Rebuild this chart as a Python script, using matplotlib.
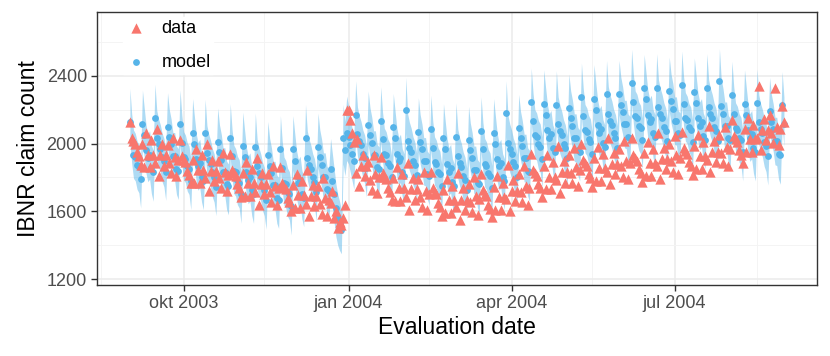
import numpy as np
import pandas as pd
import matplotlib
matplotlib.use("Agg")
import matplotlib.pyplot as plt

plt.rcParams['font.family'] = ['Liberation Sans', 'DejaVu Sans']

# daily evaluation dates, one row per week (Mon..Sun) below
start_date = "2003-09-01"
n_days = 366

# observed IBNR counts (triangles)
data = [
    2130, 2035, 2015, 2000, 1950, 1925, 1875,
    1995, 1860, 2060, 1935, 1860, 2020, 1935,
    1885, 2085, 1810, 1930, 1995, 1870, 1930,
    1990, 1885, 1825, 2035, 1920, 1810, 1905,
    2020, 1925, 1905, 1890, 1840, 1815, 1765,
    1905, 1770, 1970, 1845, 1770, 1930, 1845,
    1795, 1995, 1720, 1840, 1905, 1780, 1840,
    1900, 1795, 1735, 1945, 1830, 1720, 1815,
    1940, 1845, 1825, 1810, 1760, 1735, 1685,
    1825, 1690, 1890, 1765, 1690, 1850, 1765,
    1715, 1915, 1640, 1760, 1825, 1700, 1760,
    1820, 1715, 1655, 1865, 1750, 1640, 1735,
    1860, 1765, 1745, 1730, 1680, 1655, 1605,
    1755, 1620, 1820, 1695, 1620, 1780, 1695,
    1645, 1845, 1570, 1690, 1755, 1630, 1690,
    1750, 1645, 1585, 1795, 1680, 1570, 1665,
    1650, 1720, 1560, 1600, 1500, 1540, 1520,
    1560, 1640, 2200, 2195, 2140, 2060, 2010,
    1825, 2025, 1750, 1870, 1935, 1810, 1870,
    1890, 1785, 1725, 1935, 1820, 1710, 1805,
    1920, 1825, 1805, 1790, 1740, 1715, 1665,
    1795, 1660, 1860, 1735, 1660, 1820, 1735,
    1685, 1885, 1610, 1730, 1795, 1670, 1730,
    1790, 1685, 1625, 1835, 1720, 1610, 1705,
    1830, 1735, 1715, 1700, 1650, 1625, 1575,
    1725, 1590, 1790, 1665, 1590, 1750, 1665,
    1625, 1825, 1550, 1670, 1735, 1610, 1670,
    1760, 1655, 1595, 1805, 1690, 1580, 1675,
    1820, 1725, 1705, 1690, 1640, 1615, 1565,
    1745, 1610, 1810, 1685, 1610, 1770, 1685,
    1675, 1875, 1600, 1720, 1785, 1660, 1720,
    1820, 1715, 1655, 1865, 1750, 1640, 1735,
    1940, 1845, 1825, 1810, 1760, 1735, 1685,
    1865, 1730, 1930, 1805, 1730, 1890, 1805,
    1785, 1985, 1710, 1830, 1895, 1770, 1830,
    1930, 1825, 1765, 1975, 1860, 1750, 1845,
    2000, 1905, 1885, 1870, 1820, 1795, 1745,
    1915, 1780, 1980, 1855, 1780, 1940, 1855,
    1835, 2035, 1760, 1880, 1945, 1820, 1880,
    1970, 1865, 1805, 2015, 1900, 1790, 1885,
    2030, 1935, 1915, 1900, 1850, 1825, 1775,
    1945, 1810, 2010, 1885, 1810, 1970, 1885,
    1865, 2065, 1790, 1910, 1975, 1850, 1910,
    2000, 1895, 1835, 2045, 1930, 1820, 1915,
    2070, 1975, 1955, 1940, 1890, 1865, 1815,
    1985, 1850, 2050, 1925, 1850, 2010, 1925,
    1905, 2105, 1830, 1950, 2015, 1890, 1950,
    2050, 1945, 1885, 2095, 1980, 1870, 1965,
    2140, 2045, 2025, 2010, 1960, 1935, 1885,
    2085, 1950, 2150, 2025, 1950, 2110, 2025,
    2035, 2340, 1960, 2080, 2145, 2020, 2080,
    2170, 2065, 2005, 2330, 2100, 1990, 2085,
    2220, 2125,
]

# model predictions (circles)
model = [
    2125, 2015, 1930, 1920, 1875, 1860, 1790,
    2115, 2050, 1960, 1915, 1935, 1855, 1830,
    2150, 2035, 1995, 1970, 1920, 1895, 1835,
    2100, 2040, 1995, 1925, 1925, 1850, 1840,
    2115, 2005, 1920, 1910, 1865, 1850, 1780,
    2065, 2000, 1910, 1865, 1885, 1805, 1780,
    2060, 1945, 1905, 1880, 1830, 1805, 1745,
    2010, 1950, 1905, 1835, 1835, 1760, 1750,
    2035, 1925, 1840, 1830, 1785, 1770, 1700,
    1985, 1920, 1830, 1785, 1805, 1725, 1700,
    1980, 1865, 1825, 1800, 1750, 1725, 1665,
    1930, 1870, 1825, 1755, 1755, 1680, 1670,
    1965, 1855, 1770, 1760, 1715, 1700, 1630,
    1965, 1900, 1810, 1765, 1785, 1705, 1680,
    2030, 1915, 1875, 1850, 1800, 1775, 1715,
    1980, 1920, 1875, 1805, 1805, 1730, 1720,
    1850, 1780, 1700, 1620, 1560, 1530, 1490,
    2030, 1960, 2060, 2040, 1990, 1940, 1900,
    2170, 2055, 2015, 1990, 1940, 1915, 1855,
    2110, 2050, 2005, 1935, 1935, 1860, 1850,
    2135, 2025, 1940, 1930, 1885, 1870, 1800,
    2095, 2030, 1940, 1895, 1915, 1835, 1810,
    2195, 2015, 1975, 1950, 1900, 1875, 1815,
    2070, 2010, 1965, 1895, 1895, 1820, 1810,
    2085, 1975, 1890, 1880, 1835, 1820, 1750,
    2035, 1970, 1880, 1835, 1855, 1775, 1750,
    2040, 1925, 1885, 1860, 1810, 1785, 1725,
    2020, 1960, 1915, 1845, 1845, 1770, 1760,
    2075, 1965, 1880, 1870, 1825, 1810, 1740,
    2065, 2000, 1910, 1865, 1885, 1805, 1780,
    2180, 2005, 1965, 1940, 1890, 1865, 1805,
    2090, 2030, 1985, 1915, 1915, 1840, 1830,
    2245, 2135, 2050, 2040, 1995, 1980, 1910,
    2235, 2170, 2080, 2035, 2055, 1975, 1950,
    2230, 2115, 2075, 2050, 2000, 1975, 1915,
    2210, 2150, 2105, 2035, 2035, 1960, 1950,
    2275, 2165, 2080, 2070, 2025, 2010, 1940,
    2265, 2200, 2110, 2065, 2085, 2005, 1980,
    2290, 2175, 2135, 2110, 2060, 2035, 1975,
    2290, 2230, 2185, 2115, 2115, 2040, 2030,
    2355, 2245, 2160, 2150, 2105, 2090, 2020,
    2325, 2260, 2170, 2125, 2145, 2065, 2040,
    2330, 2215, 2175, 2150, 2100, 2075, 2015,
    2310, 2250, 2205, 2135, 2135, 2060, 2050,
    2345, 2235, 2150, 2140, 2095, 2080, 2010,
    2305, 2240, 2150, 2105, 2125, 2045, 2020,
    2330, 2215, 2175, 2150, 2100, 2075, 2015,
    2370, 2220, 2175, 2105, 2105, 2030, 2020,
    2285, 2175, 2090, 2080, 2035, 2020, 1950,
    2235, 2170, 2080, 2035, 2055, 1975, 1950,
    2240, 2125, 2085, 2060, 2010, 1985, 1925,
    2190, 2130, 2085, 2015, 2015, 1940, 1930,
    2225, 2115,
]

# prediction interval of the model (ribbon)
lower = [
    2005, 1885, 1795, 1780, 1730, 1710, 1620,
    1995, 1920, 1825, 1775, 1790, 1705, 1660,
    2030, 1905, 1860, 1830, 1775, 1745, 1665,
    1980, 1910, 1860, 1785, 1780, 1700, 1670,
    1995, 1875, 1785, 1770, 1720, 1700, 1610,
    1945, 1870, 1775, 1725, 1740, 1655, 1610,
    1940, 1815, 1770, 1740, 1685, 1655, 1575,
    1890, 1820, 1770, 1695, 1690, 1610, 1580,
    1915, 1795, 1705, 1690, 1640, 1620, 1530,
    1865, 1790, 1695, 1645, 1660, 1575, 1530,
    1860, 1735, 1690, 1660, 1605, 1575, 1495,
    1810, 1740, 1690, 1615, 1610, 1530, 1500,
    1845, 1725, 1635, 1620, 1570, 1550, 1460,
    1845, 1770, 1675, 1625, 1640, 1555, 1510,
    1910, 1785, 1740, 1710, 1655, 1625, 1545,
    1860, 1790, 1745, 1665, 1660, 1580, 1550,
    1700, 1620, 1530, 1450, 1400, 1370, 1350,
    1880, 1810, 1900, 1880, 1830, 1780, 1730,
    2050, 1925, 1880, 1850, 1795, 1765, 1685,
    1990, 1920, 1870, 1795, 1790, 1710, 1680,
    2015, 1895, 1805, 1790, 1740, 1720, 1630,
    1975, 1900, 1805, 1755, 1770, 1685, 1640,
    2060, 1885, 1840, 1810, 1755, 1725, 1645,
    1950, 1880, 1830, 1755, 1750, 1670, 1640,
    1965, 1845, 1755, 1740, 1690, 1670, 1580,
    1915, 1840, 1745, 1695, 1710, 1625, 1580,
    1920, 1795, 1750, 1720, 1665, 1635, 1555,
    1900, 1830, 1780, 1705, 1700, 1620, 1590,
    1955, 1835, 1745, 1730, 1680, 1660, 1570,
    1945, 1870, 1775, 1725, 1740, 1655, 1610,
    2040, 1875, 1830, 1800, 1745, 1715, 1635,
    1970, 1900, 1855, 1775, 1770, 1690, 1660,
    2125, 2005, 1915, 1900, 1850, 1830, 1740,
    2115, 2040, 1945, 1895, 1910, 1825, 1780,
    2110, 1985, 1940, 1910, 1855, 1825, 1745,
    2090, 2020, 1970, 1895, 1890, 1810, 1780,
    2155, 2035, 1945, 1930, 1880, 1860, 1770,
    2145, 2070, 1975, 1925, 1940, 1855, 1810,
    2170, 2045, 2000, 1970, 1915, 1885, 1805,
    2170, 2100, 2055, 1975, 1970, 1890, 1860,
    2235, 2115, 2025, 2010, 1960, 1940, 1850,
    2205, 2130, 2035, 1985, 2000, 1915, 1870,
    2210, 2085, 2040, 2010, 1955, 1925, 1845,
    2190, 2120, 2075, 1995, 1990, 1910, 1880,
    2225, 2105, 2015, 2000, 1950, 1930, 1840,
    2185, 2110, 2015, 1965, 1980, 1895, 1850,
    2210, 2085, 2040, 2010, 1955, 1925, 1845,
    2220, 2090, 2045, 1965, 1960, 1880, 1850,
    2165, 2045, 1955, 1940, 1890, 1870, 1780,
    2115, 2040, 1945, 1895, 1910, 1825, 1780,
    2120, 1995, 1950, 1920, 1865, 1835, 1755,
    2070, 2000, 1955, 1875, 1870, 1790, 1760,
    2105, 1985,
]

upper = [
    2325, 2175, 2080, 2060, 2015, 1995, 1920,
    2315, 2210, 2110, 2055, 2075, 1990, 1960,
    2350, 2195, 2145, 2110, 2060, 2030, 1965,
    2300, 2200, 2145, 2065, 2065, 1985, 1970,
    2315, 2165, 2070, 2050, 2005, 1985, 1910,
    2265, 2160, 2060, 2005, 2025, 1940, 1910,
    2260, 2105, 2055, 2020, 1970, 1940, 1875,
    2210, 2110, 2055, 1975, 1975, 1895, 1880,
    2235, 2085, 1990, 1970, 1925, 1905, 1830,
    2185, 2080, 1980, 1925, 1945, 1860, 1830,
    2180, 2025, 1975, 1940, 1890, 1860, 1795,
    2130, 2030, 1975, 1895, 1895, 1815, 1800,
    2165, 2015, 1920, 1900, 1855, 1835, 1760,
    2165, 2060, 1960, 1905, 1925, 1840, 1810,
    2230, 2075, 2025, 1990, 1940, 1910, 1845,
    2180, 2080, 2025, 1945, 1945, 1865, 1850,
    2030, 1940, 1850, 1760, 1700, 1660, 1610,
    2230, 2130, 2280, 2220, 2150, 2090, 2050,
    2370, 2215, 2165, 2130, 2080, 2050, 1985,
    2310, 2210, 2155, 2075, 2075, 1995, 1980,
    2335, 2185, 2090, 2070, 2025, 2005, 1930,
    2295, 2190, 2090, 2035, 2055, 1970, 1940,
    2390, 2175, 2125, 2090, 2040, 2010, 1945,
    2270, 2170, 2115, 2035, 2035, 1955, 1940,
    2285, 2135, 2040, 2020, 1975, 1955, 1880,
    2235, 2130, 2030, 1975, 1995, 1910, 1880,
    2240, 2085, 2035, 2000, 1950, 1920, 1855,
    2220, 2120, 2065, 1985, 1985, 1905, 1890,
    2275, 2125, 2030, 2010, 1965, 1945, 1870,
    2265, 2160, 2060, 2005, 2025, 1940, 1910,
    2370, 2165, 2115, 2080, 2030, 2000, 1935,
    2290, 2190, 2135, 2055, 2055, 1975, 1960,
    2445, 2295, 2200, 2180, 2135, 2115, 2040,
    2435, 2330, 2230, 2175, 2195, 2110, 2080,
    2430, 2275, 2225, 2190, 2140, 2110, 2045,
    2410, 2310, 2255, 2175, 2175, 2095, 2080,
    2475, 2325, 2230, 2210, 2165, 2145, 2070,
    2465, 2360, 2260, 2205, 2225, 2140, 2110,
    2490, 2335, 2285, 2250, 2200, 2170, 2105,
    2490, 2390, 2335, 2255, 2255, 2175, 2160,
    2555, 2405, 2310, 2290, 2245, 2225, 2150,
    2525, 2420, 2320, 2265, 2285, 2200, 2170,
    2530, 2375, 2325, 2290, 2240, 2210, 2145,
    2510, 2410, 2355, 2275, 2275, 2195, 2180,
    2545, 2395, 2300, 2280, 2235, 2215, 2140,
    2505, 2400, 2300, 2245, 2265, 2180, 2150,
    2530, 2375, 2325, 2290, 2240, 2210, 2145,
    2560, 2380, 2325, 2245, 2245, 2165, 2150,
    2485, 2335, 2240, 2220, 2175, 2155, 2080,
    2435, 2330, 2230, 2175, 2195, 2110, 2080,
    2440, 2285, 2235, 2200, 2150, 2120, 2055,
    2390, 2290, 2235, 2155, 2155, 2075, 2060,
    2425, 2275,
]

tick_dates = ["2003-10-01", "2004-01-01", "2004-04-01", "2004-07-01"]
tick_labels = ["okt 2003", "jan 2004", "apr 2004", "jul 2004"]
minor_dates = ["2003-08-16", "2003-11-15", "2004-02-15", "2004-05-16", "2004-08-16"]

dates = pd.date_range(start_date, periods=n_days, freq="D")

fig = plt.figure(figsize=(8.3, 3.56), dpi=100)
ax = fig.add_axes([0.117, 0.199, 0.867, 0.766])

blue = "#56B4E9"
red = "#F8766D"

ax.fill_between(dates, lower, upper, color=blue, alpha=0.48, lw=0, zorder=2)
ax.scatter(dates, model, s=24, color=blue, lw=0, zorder=3, label="model")
ax.scatter(dates, data, s=55, marker="^", color=red, lw=0, zorder=4, label="data")

# axes ranges and grid (theme_bw look)
pad = pd.Timedelta(days=18.3)
ax.set_xlim(dates[0] - pad, dates[-1] + pad)
ax.set_ylim(1165, 2773)
ax.set_yticks([1200, 1600, 2000, 2400])
ax.set_yticks([1400, 1800, 2200, 2600], minor=True)
ax.set_xticks(pd.to_datetime(tick_dates))
ax.set_xticklabels(tick_labels)
ax.set_xticks(pd.to_datetime(minor_dates), minor=True)
ax.grid(True, which="major", color="#EBEBEB", lw=1.1, zorder=0)
ax.grid(True, which="minor", color="#F3F3F3", lw=0.6, zorder=0)
ax.set_axisbelow(True)

for s in ax.spines.values():
    s.set_color("#333333")
    s.set_linewidth(1.0)
ax.tick_params(which="major", length=4.3, width=1, color="#333333",
               labelsize=13, labelcolor="#4D4D4D", pad=3)
ax.tick_params(which="minor", length=0)

ax.set_xlabel("Evaluation date", fontsize=16.5, labelpad=3)
ax.set_ylabel("IBNR claim count", fontsize=16.5, labelpad=5)

handles, labels = ax.get_legend_handles_labels()
leg = ax.legend(handles[::-1], labels[::-1], loc="upper left",
                bbox_to_anchor=(0.033, 0.99), fontsize=13, frameon=True,
                fancybox=False, edgecolor="white", facecolor="white",
                framealpha=1, handletextpad=0.8, labelspacing=0.95,
                borderpad=0.15, handlelength=1.2, scatterpoints=1,
                borderaxespad=0.1)

fig.savefig("out.png", dpi=100)
